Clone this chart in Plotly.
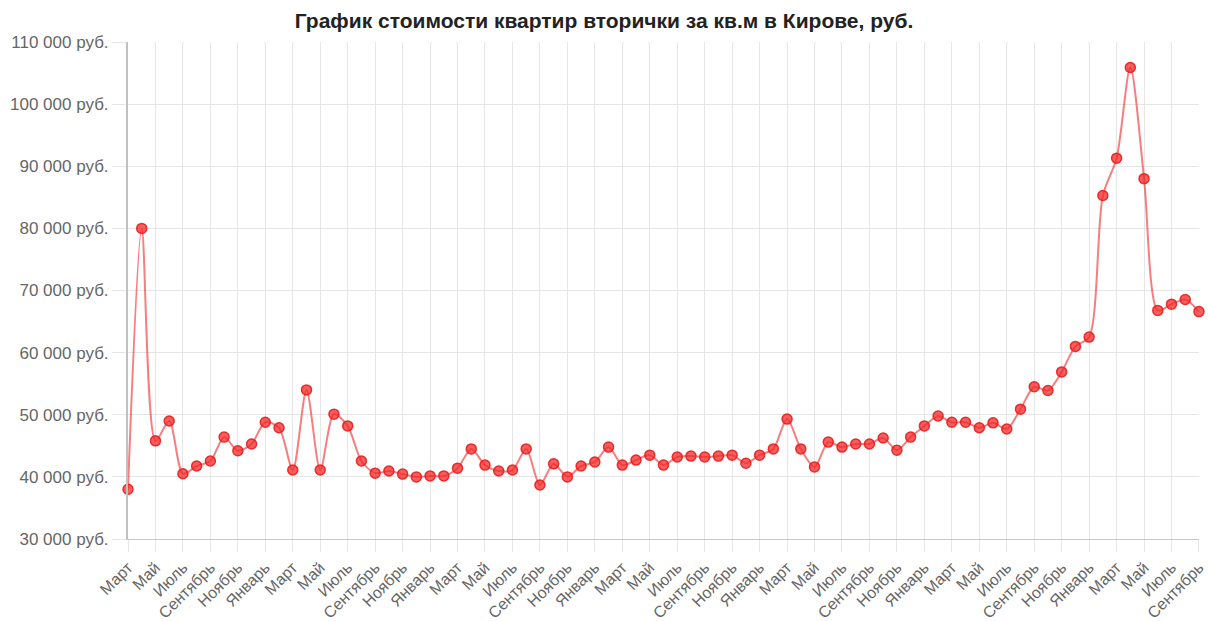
import plotly.graph_objects as go

months = ["Март", "Апрель", "Май", "Июнь", "Июль", "Август", "Сентябрь", "Октябрь",
          "Ноябрь", "Декабрь", "Январь", "Февраль"]
# 79 monthly points: March (year 1) .. September (year 7)
categories = [months[i % 12] for i in range(79)]

prices = [38000, 80000, 45800, 49000, 40500, 41750, 42550, 46400, 44200, 45300,
          48800, 47900, 41100, 54000, 41100, 50100, 48200, 42550, 40600, 40950,
          40450, 40000, 40150, 40150, 41400, 44500, 41900, 40950, 41100, 44500,
          38700, 42100, 40000, 41750, 42400, 44800, 41900, 42700, 43500, 41900,
          43200, 43350, 43200, 43350, 43500, 42200, 43500, 44500, 49300, 44500,
          41600, 45600, 44800, 45300, 45300, 46250, 44300, 46400, 48200, 49800,
          48800, 48800, 47900, 48700, 47700, 50900, 54500, 53900, 56900, 61000,
          62500, 85300, 91300, 105900, 88000, 66800, 67800, 68550, 66600]

y_tick_values = [30000, 40000, 50000, 60000, 70000, 80000, 90000, 100000, 110000]
y_tick_labels = ["30 000 руб.", "40 000 руб.", "50 000 руб.", "60 000 руб.", "70 000 руб.",
                 "80 000 руб.", "90 000 руб.", "100 000 руб.", "110 000 руб."]

x_idx = list(range(len(prices)))
x_tick_idx = x_idx[::2]
x_tick_text = [categories[i] for i in x_tick_idx]

fig = go.Figure()
fig.add_trace(go.Scatter(
    x=x_idx, y=prices, mode="lines+markers",
    line=dict(color="rgba(240,40,40,0.6)", width=2, shape="spline", smoothing=0.8),
    marker=dict(size=10, color="rgba(245,40,40,0.75)",
                line=dict(color="rgba(230,30,30,0.9)", width=1.5)),
    cliponaxis=False,
    hovertemplate="%{y} руб.<extra></extra>",
))

fig.update_layout(
    width=1208, height=621,
    margin=dict(l=128, r=9, t=42, b=82, autoexpand=False),
    paper_bgcolor="white", plot_bgcolor="white",
    showlegend=False,
    title=dict(text="<b>График стоимости квартир вторички за кв.м в Кирове, руб.</b>",
               x=0.5, xanchor="center", y=0.967, yanchor="middle",
               font=dict(family="Liberation Sans, Arial, sans-serif", size=21, color="#222222")),
    font=dict(family="Liberation Sans, Arial, sans-serif", color="#666666"),
)

fig.update_xaxes(
    range=[0, len(prices) - 1 + 0.002], automargin=False,
    tickmode="array", tickvals=x_tick_idx, ticktext=x_tick_text,
    tickangle=-45, tickfont=dict(size=16, color="#666666"),
    ticklabeloverflow="allow",
    showgrid=True, gridcolor="#e6e6e6", gridwidth=1,
    ticks="outside", ticklen=12, tickcolor="#e6e6e6",
    showline=True, linecolor="#c8c8c8", linewidth=1,
    zeroline=False,
)
fig.update_yaxes(
    range=[30000, 110000], automargin=False,
    tickmode="array", tickvals=y_tick_values, ticktext=y_tick_labels,
    tickfont=dict(size=17, color="#666666"),
    showgrid=True, gridcolor="#e6e6e6", gridwidth=1,
    ticks="outside", ticklen=14, tickcolor="#e6e6e6",
    showline=True, linecolor="#c0c0c0", linewidth=2,
    zeroline=False,
)

fig.write_html("out.html", config={"displayModeBar": False},
               post_script="document.body.style.margin='0px';document.body.style.overflow='hidden';")
